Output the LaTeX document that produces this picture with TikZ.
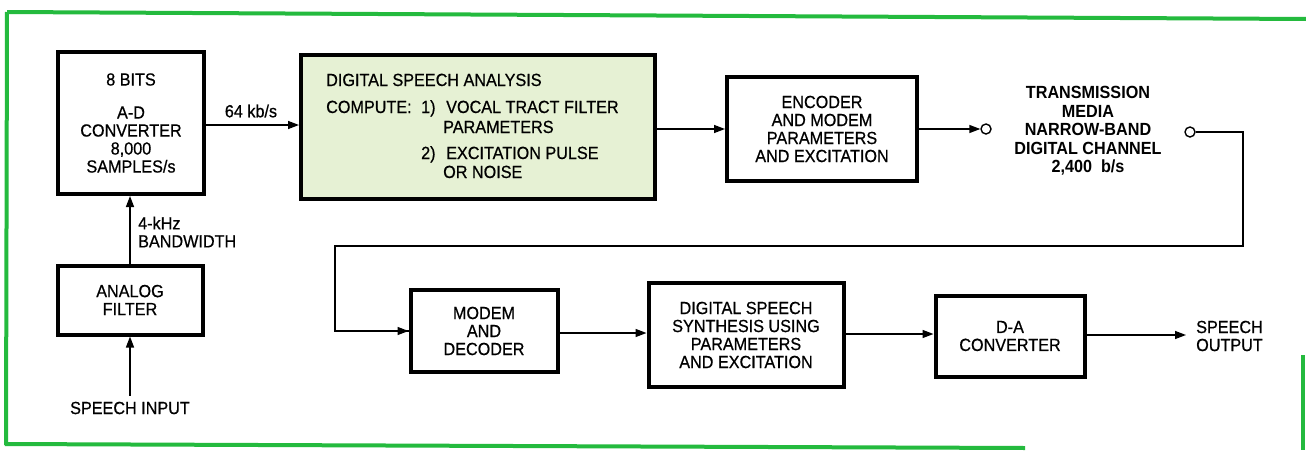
\documentclass[tikz,border=0pt]{standalone}
\usepackage{fontspec}
\setmainfont{Liberation Sans}[FakeStretch=0.92]
\newfontfamily\diag{Liberation Sans}[FakeStretch=0.92,FakeBold=0.6]
\usetikzlibrary{arrows.meta}
\definecolor{bordergreen}{RGB}{36,186,62}
\definecolor{anafill}{RGB}{230,241,212}
\begin{document}
\begin{tikzpicture}[x=1pt,y=-1pt,
  every node/.style={font=\diag\fontsize{17.6}{18}\selectfont},
  blk/.style={draw, line width=4pt, align=center, inner sep=0pt},
  ln/.style={line width=1.4pt},
  arr/.style={line width=1.4pt, -{Triangle[length=11pt,width=8pt]}},
  border/.style={draw=bordergreen, line width=4pt},
  port/.style={circle, draw, line width=1.4pt, minimum size=10pt, inner sep=0pt},
  lbl/.style={inner sep=0pt}]
\useasboundingbox (0,0) rectangle (1306,450);
\fill[white] (0,0) rectangle (1306,450);
% green frame
\draw[border] (7,12) -- (1306,19);
\draw[border] (7,12) -- (6,445);
\draw[border] (5,444) -- (1025,448);
\draw[border] (1303,355) -- (1303,450);

% blocks
\node[blk, minimum width=146pt, minimum height=142pt] (ad) at (131,123)
  {8 BITS\\[15pt] A-D\\ CONVERTER\\ 8,000\\ SAMPLES/s};
\node[blk, fill=anafill, minimum width=354pt, minimum height=144pt] (dsa) at (478,127) {};
\node[lbl, anchor=base west] (t1) at (326,86) {DIGITAL SPEECH ANALYSIS};
\node[lbl, anchor=base west] (t2) at (326,113) {COMPUTE:};
\node[lbl, anchor=base west] (t3) at (421,113) {1)};
\node[lbl, anchor=base west] (t4) at (446,113) {VOCAL TRACT FILTER};
\node[lbl, anchor=base west] (t5) at (443,133) {PARAMETERS};
\node[lbl, anchor=base west] (t6) at (421,159) {2)};
\node[lbl, anchor=base west] (t7) at (446,159) {EXCITATION PULSE};
\node[lbl, anchor=base west] (t8) at (443,178) {OR NOISE};

\node[blk, minimum width=190pt, minimum height=104pt] (enc) at (822,129)
  {ENCODER\\ AND MODEM\\ PARAMETERS\\ AND EXCITATION};
\node[port] (c1) at (986,129) {};
\node[lbl, font=\bfseries\fontsize{17.6}{18.5}\selectfont, align=center] (tm) at (1088,131)
  {TRANSMISSION\\ MEDIA\\ NARROW-BAND\\ DIGITAL CHANNEL\\ 2,400\ \ b/s};
\node[port] (c2) at (1190,132) {};

\node[blk, minimum width=145pt, minimum height=69pt] (af) at (130,300)
  {ANALOG\\ FILTER};
\node[lbl] (sin) at (130,408) {SPEECH INPUT};
\node[lbl, anchor=west, align=left] (bw) at (138,232) {4-kHz\\ BANDWIDTH};
\node[lbl] (rate) at (251,111) {64 kb/s};

\node[blk, minimum width=147pt, minimum height=82pt] (modem) at (484,331)
  {MODEM\\ AND\\ DECODER};
\node[blk, minimum width=195pt, minimum height=104pt] (dss) at (746,335)
  {DIGITAL SPEECH\\ SYNTHESIS USING\\ PARAMETERS\\ AND EXCITATION};
\node[blk, minimum width=149pt, minimum height=81pt] (da) at (1010,336)
  {D-A\\ CONVERTER};
\node[lbl, anchor=west, align=left] (sout) at (1196,336) {SPEECH\\ OUTPUT};

% connectors
\coordinate (fr) at (1243,246);
\coordinate (fl) at (335,246);
\draw[arr] ([yshift=6pt]sin.north) -- (af.south);
\draw[arr] (af.north) -- (af.north |- ad.south);
\draw[arr] (ad.east |- 0,125) -- (dsa.west |- 0,125);
\draw[arr] (dsa.east |- 0,129) -- (enc.west |- 0,129);
\draw[arr] (enc.east |- 0,129) -- (c1.west);
\draw[ln] (c2.east) -| (fr) -- (fl) |- (modem.west);
\draw[arr] (fl |- modem.west) -- (modem.west);
\draw[arr] (modem.east |- 0,333) -- (dss.west |- 0,333);
\draw[arr] (dss.east |- 0,334) -- (da.west |- 0,334);
\draw[arr] (da.east |- 0,335) -- (1186,335) coordinate (oend);
\end{tikzpicture}
\end{document}
